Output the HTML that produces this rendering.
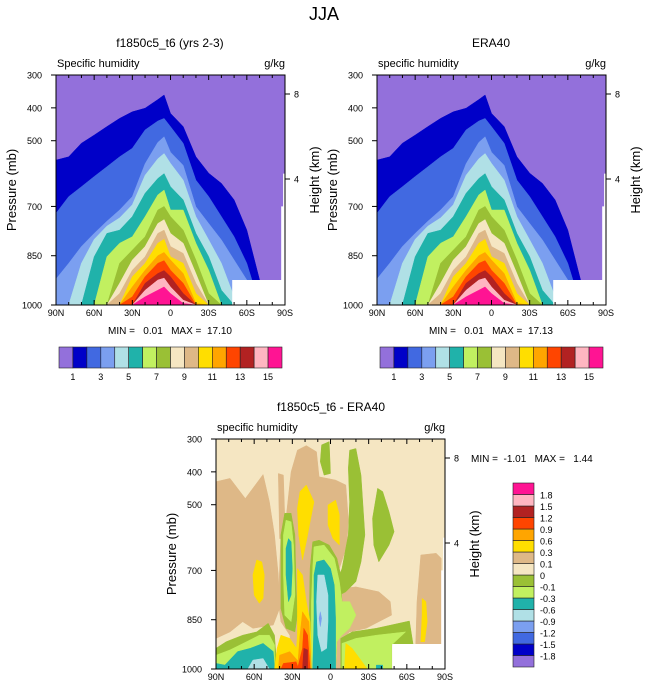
<!DOCTYPE html>
<html><head><meta charset="utf-8"><style>
body{margin:0;background:#fff;width:648px;height:694px;overflow:hidden}
svg{display:block;font-family:"Liberation Sans",Arial,sans-serif}
svg text{white-space:pre}
</style></head><body>
<svg id="chart" width="648" height="694" viewBox="0 0 648 694" xmlns="http://www.w3.org/2000/svg"></svg>
<script>
// ---------- data ----------
const colors=["#9370db","#0000c8","#4169e1","#7b9ff0","#b0e0e6","#20b2aa","#c1f060","#9ac035","#f5e6c2","#deb887","#ffde00","#ffa500","#ff4500","#b22222","#ffb6c1","#ff1493"];
const lats=[90,80,70,60,50,40,30,20,10,5,0,-10,-20,-30,-40,-50,-60,-70,-80,-90];
// top pressure (mb) of each contour level (1..15 g/kg) at each latitude
const lev1=[559,549,508,483,457,432,412,401,375,361,417,457,549,599,630,680,772,924,1000,1000];
const lev2=[721,670,640,609,579,549,523,467,440,432,457,508,620,670,731,792,873,1000,1000,1000];
const lev3=[921,873,822,782,745,711,670,570,505,488,535,575,701,752,802,863,924,1000,1000,1000];
const lev4=[1000,1000,873,800,760,735,695,605,555,539,569,620,731,802,873,975,1000,1000,1000,1000];
const lev5=[1000,1000,1000,853,782,772,731,660,615,600,640,680,782,853,955,1000,1000,1000,1000,1000];
const lev6=[1000,1000,1000,1000,853,812,792,731,665,650,711,711,812,894,1000,1000,1000,1000,1000,1000];
const lev7=[1000,1000,1000,1000,1000,873,833,792,711,700,731,772,863,965,1000,1000,1000,1000,1000,1000];
const lev8=[1000,1000,1000,1000,1000,934,863,822,752,740,782,812,904,1000,1000,1000,1000,1000,1000,1000];
const lev9=[1000,1000,1000,1000,1000,965,894,853,782,772,822,843,934,1000,1000,1000,1000,1000,1000,1000];
const lev10=[1000,1000,1000,1000,1000,1000,914,873,812,800,853,873,965,1000,1000,1000,1000,1000,1000,1000];
const lev11=[1000,1000,1000,1000,1000,1000,945,894,850,840,863,904,995,1000,1000,1000,1000,1000,1000,1000];
const lev12=[1000,1000,1000,1000,1000,1000,975,914,873,865,894,934,1000,1000,1000,1000,1000,1000,1000,1000];
const lev13=[1000,1000,1000,1000,1000,1000,1000,934,904,895,914,965,1000,1000,1000,1000,1000,1000,1000,1000];
const lev14=[1000,1000,1000,1000,1000,1000,1000,955,924,918,945,985,1000,1000,1000,1000,1000,1000,1000,1000];
const lev15=[1000,1000,1000,1000,1000,1000,1000,975,955,945,965,995,1000,1000,1000,1000,1000,1000,1000,1000];
const modelLevels=[lev1,lev2,lev3,lev4,lev5,lev6,lev7,lev8,lev9,lev10,lev11,lev12,lev13,lev14,lev15];
const eraLevels=[lev1,lev2,lev3,lev4,lev5,lev6,lev7,lev8,lev9,lev10,lev11,lev12,lev13,lev14,lev15];
const barLabels=["1","3","5","7","9","11","13","15"];
const diffLabels=["1.8","1.5","1.2","0.9","0.6","0.3","0.1","0","-0.1","-0.3","-0.6","-0.9","-1.2","-1.5","-1.8"];
const pTicks=[300,400,500,700,850,1000];
const latTicks=[90,60,30,0,-30,-60,-90];
const latTickLabels=["90N","60N","30N","0","30S","60S","90S"];
// difference blobs: [colorIndex, [[lat,p],...]]
const diffBlobs=[
[9,[[90,430],[79,420],[67,481],[53,408],[48,491],[44,592],[41,714],[40,816],[45,866],[61,876],[69,856],[79,887],[90,907]]],
[9,[[41,405],[37,410],[36,531],[35,603],[40,603]]],
[9,[[31,400],[26,334],[19,320],[11,339],[9,415],[-4,425],[-12,440],[-14,542],[-13,623],[-7,694],[-9,755],[-20,750],[-38,765],[-47,795],[-48,836],[-38,856],[-28,876],[-15,887],[-8,917],[-8,1000],[29,1000],[32,897],[39,856],[41,795],[39,592],[35,542]]],
[9,[[-71,653],[-83,648],[-87,663],[-87,927],[-67,927],[-68,795]]],
[7,[[7,318],[1,308],[0,405],[5,410],[8,369]]],
[7,[[-15,334],[-20,329],[-24,410],[-27,592],[-24,674],[-20,734],[-12,765],[-7,775],[-2,765],[-9,694],[-14,592],[-15,491],[-14,389]]],
[7,[[-37,450],[-41,460],[-46,521],[-50,582],[-46,623],[-38,674],[-34,623],[-33,542]]],
[7,[[-8,907],[-17,887],[-36,876],[-62,854],[-65,927],[-48,927],[-48,1000],[-8,1000]]],
[7,[[36,526],[31,526],[28,592],[27,745],[26,836],[28,887],[35,876],[39,816],[39,694],[39,592]]],
[7,[[14,613],[9,608],[1,623],[-5,663],[-8,714],[-9,795],[-7,856],[-5,917],[-4,1000],[16,1000],[17,897],[16,694]]],
[7,[[90,937],[82,917],[69,897],[58,887],[49,861],[44,897],[42,1000],[90,1000]]],
[6,[[-9,922],[-20,907],[-36,897],[-59,887],[-48,927],[-48,1000],[-9,1000]]],
[6,[[35,547],[31,552],[29,623],[28,775],[31,856],[36,836],[37,714],[37,592]]],
[6,[[13,628],[5,623],[-3,663],[-7,734],[-9,795],[-15,795],[-20,836],[-15,876],[-9,897],[-5,917],[-4,1000],[15,1000],[15,795],[14,694]]],
[6,[[90,958],[79,942],[66,917],[56,897],[48,897],[44,927],[44,1000],[90,1000]]],
[5,[[33,603],[31,613],[30,694],[31,775],[33,795],[35,714],[35,633]]],
[5,[[11,674],[5,668],[0,694],[-3,745],[-4,846],[-4,1000],[14,1000],[13,846],[13,714]]],
[5,[[90,983],[83,988],[73,947],[63,937],[53,922],[45,947],[44,1000],[90,1000]]],
[5,[[-36,988],[-41,988],[-41,1000],[-36,1000]]],
[4,[[10,714],[5,714],[2,775],[2,856],[3,937],[7,947],[10,897],[11,795]]],
[4,[[65,1000],[61,973],[53,968],[48,1000]]],
[3,[[8,826],[7,846],[8,871],[9,846]]],
[10,[[24,460],[19,440],[13,491],[16,552],[19,613],[22,668],[25,592],[26,511]]],
[10,[[2,501],[-4,486],[-7,531],[-7,623],[-2,603],[2,562]]],
[10,[[58,668],[54,674],[52,714],[53,785],[56,800],[60,775],[61,714]]],
[10,[[-72,785],[-75,795],[-76,856],[-74,917],[-71,917],[-72,836]]],
[10,[[26,694],[22,714],[19,795],[16,856],[15,947],[16,1000],[28,1000],[26,897],[26,816]]],
[10,[[42,937],[39,897],[32,907],[25,947],[25,1000],[44,1000]]],
[10,[[-12,922],[-17,937],[-29,1000],[-11,1000]]],
[11,[[22,826],[17,856],[15,1000],[26,1000],[24,897]]],
[11,[[40,958],[32,947],[25,978],[25,1000],[41,1000]]],
[12,[[21,876],[18,897],[16,1000],[26,1000],[22,937]]],
[12,[[37,983],[27,978],[25,1000],[39,1000]]],
[13,[[21,937],[18,942],[18,1000],[22,1000]]]
];
// ---------- drawing ----------
const NS="http://www.w3.org/2000/svg";
const svg=document.getElementById('chart');
function el(tag,attrs,parent,text){const e=document.createElementNS(NS,tag);for(const k in attrs)e.setAttribute(k,attrs[k]);if(text!==undefined)e.textContent=text;(parent||svg).appendChild(e);return e;}
function makeAxes(x0,y0,w,h){return {x:lat=>x0+(90-lat)/180*w,y:p=>y0+(p-300)/700*h,x0,y0,w,h};}
function text(x,y,s,size,anchor,parent,name){const t=el('text',{x,y,'font-size':size,'text-anchor':anchor||'start',fill:'#000'},parent,s);return t;}

function drawFrame(ax,g,prefix){
  const wr=el('path',{d:`M${ax.x(-48.5)},${ax.y(924)}H${ax.x(-90)}V${ax.y(1000)}H${ax.x(-48.5)}Z M${ax.x(-87)},${ax.y(700)}H${ax.x(-90)}V${ax.y(924)}H${ax.x(-87)}Z M${ax.x(-88.5)},${ax.y(600)}H${ax.x(-90)}V${ax.y(700)}H${ax.x(-88.5)}Z`,fill:'#fff'},g);
  
  const fr=el('rect',{x:ax.x0,y:ax.y0,width:ax.w,height:ax.h,fill:'none',stroke:'#000','stroke-width':1},g);
  
  for(let lat=90;lat>=-90;lat-=10){const maj=lat%30===0;const L=maj?5:3;const X=ax.x(lat);
    el('line',{x1:X,x2:X,y1:ax.y0,y2:ax.y0+L,stroke:'#000'},g);el('line',{x1:X,x2:X,y1:ax.y0+ax.h,y2:ax.y0+ax.h-L,stroke:'#000'},g);}
  latTicks.forEach((lat,i)=>text(ax.x(lat),ax.y0+ax.h+11,latTickLabels[i],9,'middle',g,prefix+'-x-tick-label'));
  pTicks.forEach(p=>{const Y=ax.y(p);el('line',{x1:ax.x0-5,x2:ax.x0,y1:Y,y2:Y,stroke:'#000'},g);text(ax.x0-14,Y+3.5,String(p),9,'end',g,prefix+'-y-tick-label');});
  [[8,94-75],[4,179-75]].forEach(([km,dy])=>{const Y=ax.y0+dy*ax.h/230;el('line',{x1:ax.x0+ax.w,x2:ax.x0+ax.w+5,y1:Y,y2:Y,stroke:'#000'},g);text(ax.x0+ax.w+9,Y+3.5,String(km),9,'start',g,prefix+'-height-tick-label');});
  const yl=text(0,0,'Pressure (mb)',13,'middle',g,prefix+'-y-axis-title');yl.setAttribute('transform',`translate(${ax.x0-40},${ax.y0+ax.h/2}) rotate(-90)`);
  const hl=text(0,0,'Height (km)',13,'middle',g,prefix+'-height-axis-title');hl.setAttribute('transform',`translate(${ax.x0+ax.w+34},${ax.y0+ax.h/2-10}) rotate(-90)`);
}
function drawLevels(ax,levels,g,prefix){
  const bg=el('rect',{x:ax.x0,y:ax.y0,width:ax.w,height:ax.h,fill:colors[0]},g);
  
  levels.forEach((arr,k)=>{
    let d=`M${ax.x(lats[0])},${ax.y(1000)}`;
    lats.forEach((lat,i)=>{d+=`L${ax.x(lat).toFixed(1)},${ax.y(arr[i]).toFixed(1)}`;});
    d+=`L${ax.x(lats[lats.length-1])},${ax.y(1000)}Z`;
    const pth=el('path',{d,fill:colors[k+1],stroke:colors[k+1],'stroke-width':0.5,'stroke-linejoin':'round'},g);
    
    
  });
}
function drawHBar(x0,y0,w,h,g,prefix){
  const bw=w/16;
  colors.forEach((c,i)=>{const r=el('rect',{x:x0+i*bw,y:y0,width:bw,height:h,fill:c,stroke:'#222','stroke-width':0.6},g);
    });
  barLabels.forEach((s,i)=>text(x0+(1+2*i)*bw,y0+h+12,s,9,'middle',g,prefix+'-colorbar-label'));
}
text(324,20,'JJA',18,'middle',svg,'figure-title');

function topPanel(ox,title,sub,levels,minmax,prefix){
  const g=el('g',{},svg);
  const ax=makeAxes(ox,75,229,230);
  drawLevels(ax,levels,g,prefix);
  drawFrame(ax,g,prefix);
  text(ox+114,47,title,12,'middle',g,prefix+'-title');
  text(ox+1,67,sub,11,'start',g,prefix+'-variable-label');
  text(ox+229,67,'g/kg',11,'end',g,prefix+'-units-label');
  text(ox+114,334,minmax,10,'middle',g,prefix+'-min-max-label');
  drawHBar(ox+3,347,223,21,g,prefix);
}
topPanel(56,'f1850c5_t6 (yrs 2-3)','Specific humidity',modelLevels,'MIN =   0.01   MAX =  17.10','model');
topPanel(377,'ERA40','specific humidity',eraLevels,'MIN =   0.01   MAX =  17.13','era40');

(function(){
  const prefix='diff';
  const g=el('g',{},svg);
  const ax=makeAxes(216,439,229,230);
  const bg=el('rect',{x:ax.x0,y:ax.y0,width:ax.w,height:ax.h,fill:colors[8]},g);
  
  diffBlobs.forEach(([ci,pts])=>{
    const d='M'+pts.map(([la,p])=>ax.x(la).toFixed(1)+','+ax.y(p).toFixed(1)).join('L')+'Z';
    const pth=el('path',{d,fill:colors[ci],stroke:colors[ci],'stroke-width':0.5,'stroke-linejoin':'round'},g);
    
    
  });
  drawFrame(ax,g,prefix);
  text(331,411,'f1850c5_t6 - ERA40',12,'middle',g,'diff-title');
  text(217,431,'specific humidity',11,'start',g,'diff-variable-label');
  text(445,431,'g/kg',11,'end',g,'diff-units-label');
  text(471,462,'MIN =  -1.01   MAX =   1.44',10,'start',g,'diff-min-max-label');
  const x0=513,y0=483,bw=21,bh=184/16;
  colors.forEach((c,i)=>{const r=el('rect',{x:x0,y:y0+(15-i)*bh,width:bw,height:bh,fill:c,stroke:'#222','stroke-width':0.6},g);
    });
  diffLabels.forEach((s,i)=>text(x0+bw+6,y0+(i+1)*bh+4,s,9,'start',g,'diff-colorbar-label'));
})();
</script>
</body></html>
